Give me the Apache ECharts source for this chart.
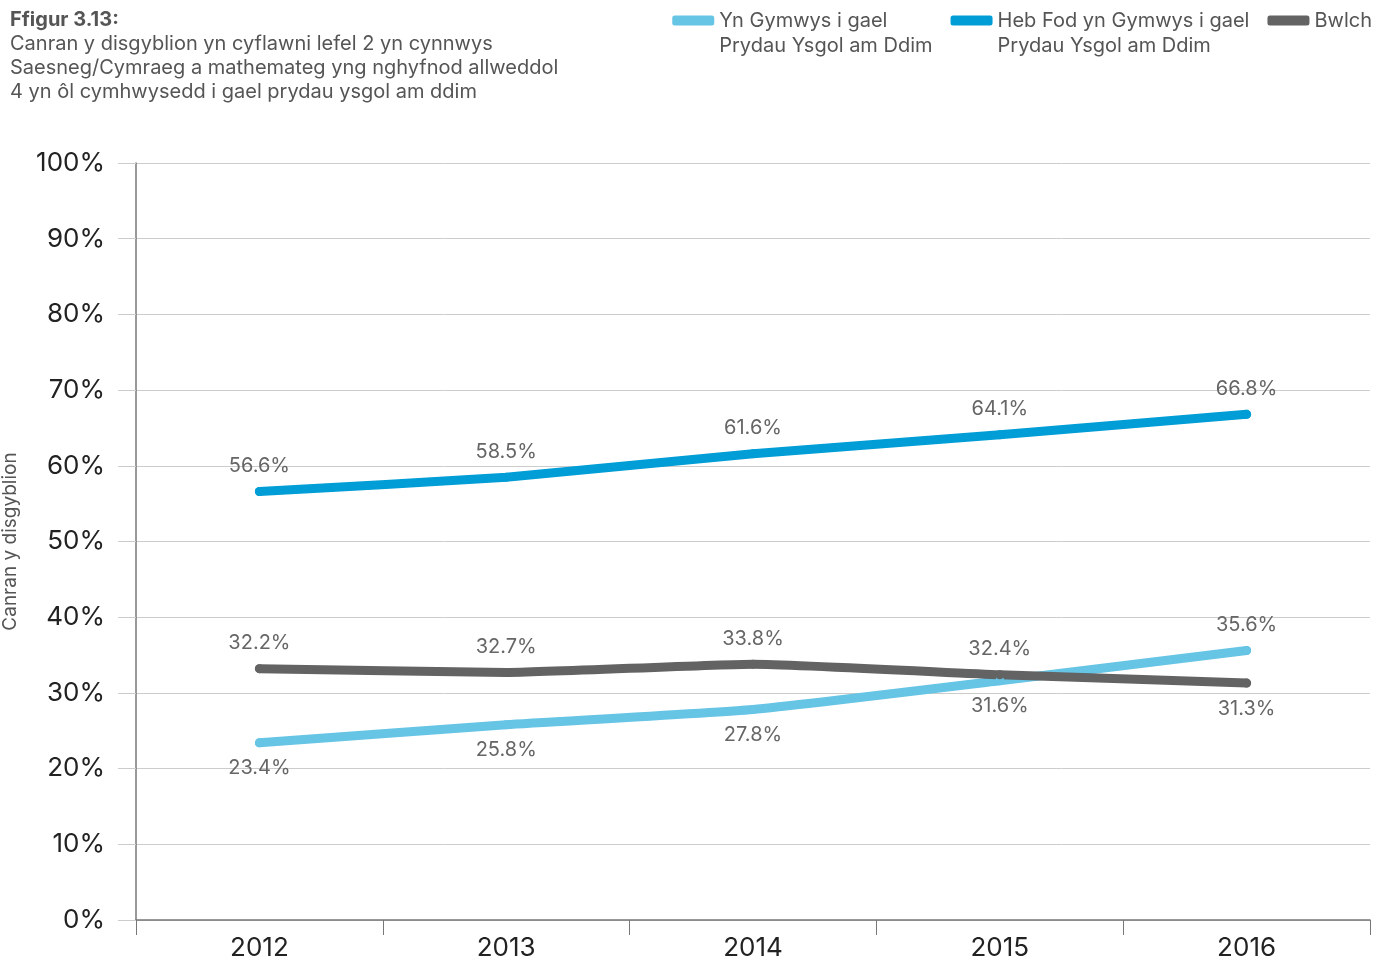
<!DOCTYPE html>
<html>
<head>
<meta charset="utf-8">
<script src="https://cdn.jsdelivr.net/npm/echarts@6/dist/echarts.min.js"></script>
<style>
  html, body { margin: 0; padding: 0; background: #fff; }
  #chart { width: 1378px; height: 962px; }
</style>
</head>
<body>
<div id="chart"></div>
<script>
// data
const years = ['2012', '2013', '2014', '2015', '2016'];
const yTicks = [0, 10, 20, 30, 40, 50, 60, 70, 80, 90, 100];
const eligible = [23.4, 25.8, 27.8, 31.6, 35.6];
const notEligible = [56.6, 58.5, 61.6, 64.1, 66.8];
const gap = [33.2, 32.7, 33.8, 32.4, 31.3];
// printed labels (first one differs from the plotted value in the original)
const gapLabels = ['32.2%', '32.7%', '33.8%', '32.4%', '31.3%'];
const eligiblePos = ['bottom', 'bottom', 'bottom', 'bottom', 'top'];
const gapPos = ['top', 'top', 'top', 'top', 'bottom'];

const FONT = 'Inter, Roboto, sans-serif';
const labelStyle = { show: true, fontFamily: FONT, fontSize: 20, color: '#666', distance: 11 };

function points(values, positions, texts) {
    return values.map((v, i) => ({
        value: v,
        label: Object.assign({}, labelStyle, {
            position: positions ? positions[i] : 'top',
            formatter: texts ? texts[i] : v.toFixed(1) + '%'
        })
    }));
}

// round dots at the vertices blend with the round line caps
const lineSeries = {
    type: 'line',
    smooth: 0.15,
    symbol: 'circle',
    symbolSize: 9,
    showSymbol: true,
    lineStyle: { width: 9, cap: 'round', join: 'round' }
};

const chart = echarts.init(document.getElementById('chart'));

const option = {
    animation: false,
    title: {
        left: 10,
        top: 8,
        text: 'Ffigur 3.13:',
        textStyle: { fontFamily: FONT, fontSize: 20, fontWeight: 'bold', color: '#555', lineHeight: 24 },
        subtext: 'Canran y disgyblion yn cyflawni lefel 2 yn cynnwys\nSaesneg/Cymraeg a mathemateg yng nghyfnod allweddol\n4 yn ôl cymhwysedd i gael prydau ysgol am ddim',
        subtextStyle: { fontFamily: FONT, fontSize: 20, color: '#555', lineHeight: 24 },
        itemGap: 0,
        padding: 0
    },
    legend: {
        right: 6,
        top: -17,
        padding: 0,
        itemGap: 18,
        itemWidth: 42,
        itemHeight: 10,
        icon: 'roundRect',
        textStyle: { fontFamily: FONT, fontSize: 20, color: '#555', lineHeight: 25 },
        formatter: name => name.indexOf('\n') >= 0 ? ' \n' + name : name,
        data: [
            'Yn Gymwys i gael\nPrydau Ysgol am Ddim',
            'Heb Fod yn Gymwys i gael\nPrydau Ysgol am Ddim',
            'Bwlch'
        ]
    },
    grid: { left: 136, right: 8, top: 163, bottom: 42, containLabel: false, outerBoundsMode: 'none' },
    xAxis: {
        type: 'category',
        data: years,
        boundaryGap: true,
        axisLine: { lineStyle: { color: '#777', width: 1.5 } },
        axisTick: { show: true, length: 15, lineStyle: { color: '#777' } },
        axisLabel: { fontFamily: FONT, fontSize: 26, color: '#222', margin: 15 }
    },
    yAxis: {
        type: 'value',
        min: yTicks[0],
        max: yTicks[yTicks.length - 1],
        interval: 10,
        name: 'Canran y disgyblion',
        nameLocation: 'middle',
        nameGap: 116,
        nameTextStyle: { fontFamily: FONT, fontSize: 19, color: '#555' },
        axisLine: { show: true, lineStyle: { color: '#777', width: 1.5 } },
        axisTick: { show: true, length: 18, lineStyle: { color: '#ccc' } },
        axisLabel: { fontFamily: FONT, fontSize: 26, color: '#222', margin: 31, formatter: '{value}%' },
        splitLine: { lineStyle: { color: '#ccc', width: 1 } }
    },
    series: [
        Object.assign({}, lineSeries, {
            name: 'Yn Gymwys i gael\nPrydau Ysgol am Ddim',
            color: '#66C4E5',
            data: points(eligible, eligiblePos)
        }),
        Object.assign({}, lineSeries, {
            name: 'Heb Fod yn Gymwys i gael\nPrydau Ysgol am Ddim',
            color: '#009DD6',
            data: points(notEligible, null)
        }),
        Object.assign({}, lineSeries, {
            name: 'Bwlch',
            color: '#636363',
            data: points(gap, gapPos, gapLabels)
        })
    ]
};

chart.setOption(option);
</script>
</body>
</html>
